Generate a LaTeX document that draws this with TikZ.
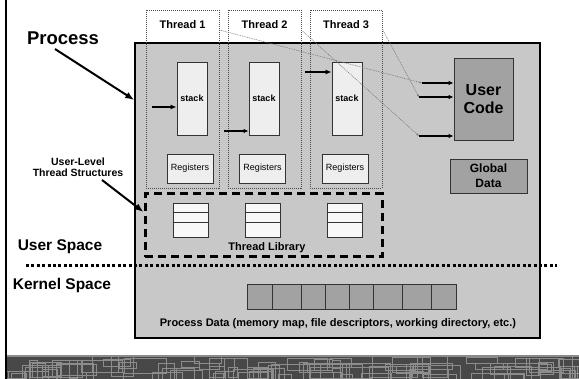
\documentclass[tikz,border=0pt]{standalone}
\usepackage{fontspec}
\setmainfont{Liberation Sans}
\usetikzlibrary{arrows.meta,positioning,calc}
\definecolor{procfill}{RGB}{200,200,200}
\definecolor{stackfill}{RGB}{238,238,238}
\definecolor{codefill}{RGB}{162,162,162}
\definecolor{bandfill}{RGB}{72,72,72}
\definecolor{bandline}{RGB}{140,140,140}

\begin{document}
\begin{tikzpicture}[x=1pt,y=-1pt,
  every node/.style={font=\bfseries, inner sep=0pt},
  thrbox/.style={draw=black!70, line width=0.6pt, dash pattern=on 1pt off 1pt, minimum width=73pt, minimum height=178pt},
  stk/.style={draw=black!80, line width=0.8pt, fill=stackfill, minimum width=30pt, minimum height=73pt, font=\bfseries\fontsize{9}{10}\selectfont},
  regbox/.style={draw=black!80, line width=0.8pt, fill=stackfill, minimum width=46pt, minimum height=29pt, font=\fontsize{9}{10}\selectfont},
  tbl/.style={draw=black!80, line width=0.8pt, fill=white!97!black, minimum width=35pt, minimum height=34pt},
  ptr/.style={-{Latex[length=6pt,width=5pt]}, line width=2pt},
  thinptr/.style={-{Latex[length=5pt,width=4.5pt]}, line width=1.4pt},
  link/.style={-{Stealth[length=3pt,width=2pt]}, draw=black!55, line width=0.5pt, dash pattern=on 1pt off 0.8pt},
  callout/.style={-{Latex[length=9pt,width=7pt]}, line width=2pt}
]
\useasboundingbox (0,0) rectangle (579,379);

% process box
\node[draw, line width=1.5pt, fill=procfill, minimum width=405pt, minimum height=295pt] (proc) at (337.5,190.5) {};

% threads
\node[thrbox] (thr1) at (182.5,99) {};
\node[thrbox] (thr2) at (264.5,99) {};
\node[thrbox, minimum width=72pt] (thr3) at (346,99) {};
\node[font=\bfseries\fontsize{11}{12}\selectfont] at (182.5,25) {Thread 1};
\node[font=\bfseries\fontsize{11}{12}\selectfont] at (264.5,25) {Thread 2};
\node[font=\bfseries\fontsize{11}{12}\selectfont] at (346,25) {Thread 3};

\node[stk] (stk1) at (192,98.5) {stack};
\node[stk] (stk2) at (264,98.5) {stack};
\node[stk] (stk3) at (347,98.5) {stack};
\node[regbox] (reg1) at (190,168.5) {Registers};
\node[regbox] (reg2) at (262.5,168.5) {Registers};
\node[regbox] (reg3) at (345,168.5) {Registers};

\coordinate (sp1) at (152,107);
\coordinate (sp2) at (224,131);
\coordinate (sp3) at (305,72);
\draw[ptr] (sp1) -- (sp1 -| stk1.west);
\draw[thinptr] (sp2) -- (sp2 -| stk2.west);
\draw[ptr] (sp3) -- (sp3 -| stk3.west);

% user code and data
\node[draw=black!80, line width=0.8pt, fill=codefill, minimum width=59pt, minimum height=82pt, align=center, font=\bfseries\fontsize{16}{18}\selectfont] (ucode) at (483.5,99) {User\\Code};
\node[draw=black!80, line width=0.8pt, fill=codefill, minimum width=77pt, minimum height=34pt, align=center, font=\bfseries\fontsize{12}{15}\selectfont] (gdata) at (488.5,176) {Global\\Data};

\coordinate (u1) at (422,83);
\coordinate (u2) at (419,97);
\coordinate (u3) at (419,136);
\draw[thinptr] (u1) -- (u1 -| ucode.west);
\draw[thinptr] (u2) -- (u2 -| ucode.west);
\draw[thinptr] (u3) -- (u3 -| ucode.west);
\draw[link] (thr1.east |- 0,30) -- (u1);
\draw[link] (thr2.east |- 0,30) -- (u3);
\draw[link] (thr3.east |- 0,29) -- (u2);

% thread library
\node[draw, line width=3pt, dash pattern=on 8pt off 5pt, minimum width=237pt, minimum height=63pt] (tlib) at (263.5,225.5) {};
\node[tbl] (tbl1) at (190.5,220) {};
\node[tbl] (tbl2) at (263,220) {};
\node[tbl] (tbl3) at (345,220) {};
\foreach \t in {tbl1,tbl2,tbl3}{
  \draw[black!80, line width=0.8pt] (\t.west |- 0,212) -- (\t.east |- 0,212);
  \draw[black!80, line width=0.8pt] (\t.west |- 0,222) -- (\t.east |- 0,222);
}
\node[font=\bfseries\fontsize{11}{12}\selectfont] (tliblbl) at (267,248) {Thread Library};

% user / kernel boundary
\draw[line width=3pt, dash pattern=on 3pt off 2.4pt] (26,266) -- (557,266);

% process data
\foreach \a/\b in {247/272,272/301,301/325,325/349,349/373,373/402,402/431,431/456}
  \draw[black!80, line width=0.8pt, fill=codefill] (\a,284) rectangle (\b,309);
\node[font=\bfseries\fontsize{11}{12}\selectfont] (pdata) at (338,324) {Process Data (memory map, file descriptors, working directory, etc.)};

% left side labels
\node[font=\bfseries\fontsize{18.5}{20}\selectfont] (proclbl) at (63,38) {Process};
\coordinate (pa) at (55,49);
\draw[callout] (pa) -- (proc.west |- 0,100);
\node[align=center, font=\bfseries\fontsize{10.5}{11.5}\selectfont] (ulbl) at (78,167) {User-Level\\Thread Structures};
\coordinate (ua) at (102,180);
\draw[callout] (ua) -- (tlib.west |- 0,212);
\node[font=\bfseries\fontsize{15.5}{17}\selectfont] (uspace) at (60,247) {User Space};
\node[font=\bfseries\fontsize{15.5}{17}\selectfont] (kspace) at (62,285) {Kernel Space};

% frame bar and footer band
\draw[line width=2.5pt] (6,0) -- (6,379);
\begin{scope}
\clip (7.2,355) rectangle (579,379);
\fill[bandfill] (7,355) rectangle (579,379);
\pgfmathsetseed{42}
\foreach \i in {1,...,95}{
  \pgfmathsetmacro\bx{random(0,580)}
  \pgfmathsetmacro\by{357+random(0,18)}
  \pgfmathsetmacro\bw{random(8,45)}
  \pgfmathsetmacro\bh{random(6,22)}
  \draw[bandline, line width=1pt] (\bx,\by) rectangle ++(\bw,\bh);
}
\draw[bandline, line width=1.6pt] (7,356) -- (579,356);
\end{scope}
\end{tikzpicture}
\end{document}
